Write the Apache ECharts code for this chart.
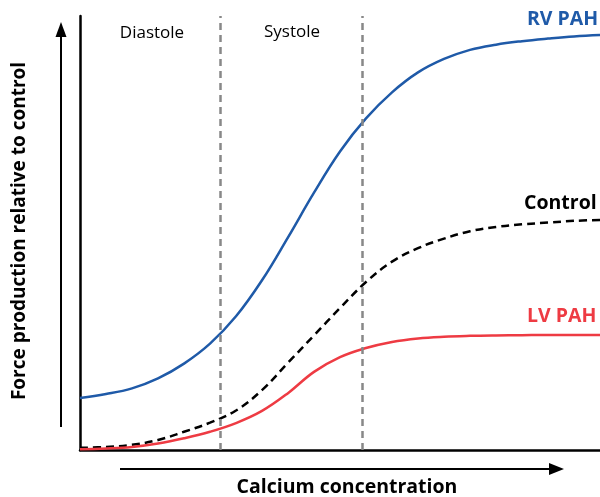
<!DOCTYPE html>
<html>
<head>
<meta charset="utf-8">
<script src="https://cdn.jsdelivr.net/npm/echarts@6/dist/echarts.min.js"></script>
<style>html,body{margin:0;padding:0;background:#fff;}#chart{width:600px;height:497px;}</style>
</head>
<body>
<div id="chart"></div>
<script>
// Calcium concentration (relative units, 0-100)
var calcium = [0, 5, 10, 15, 20, 25, 30, 35, 40, 45, 50, 55, 60, 65, 70, 75, 80, 85, 90, 95, 100];
// Force production (relative units)
var rvPah   = [12.0, 12.9, 14.2, 16.5, 19.9, 24.5, 30.8, 39.1, 49.0, 59.3, 68.8, 76.4, 82.4, 87.0, 90.1, 92.2, 93.4, 94.2, 94.8, 95.3, 95.6];
var control = [0.5, 0.7, 1.2, 2.3, 4.2, 6.3, 9.1, 13.8, 20.1, 26.4, 32.7, 38.7, 43.4, 46.5, 48.7, 50.4, 51.4, 52.0, 52.4, 52.8, 53.0];
var lvPah   = [0.2, 0.35, 0.7, 1.5, 2.7, 4.2, 6.2, 9.0, 13.1, 18.0, 21.4, 23.5, 24.9, 25.7, 26.1, 26.3, 26.4, 26.45, 26.5, 26.5, 26.5];
// Phase boundaries on calcium axis
var phaseBounds = [26.9, 54.2];
var phaseNames = ['Diastole', 'Systole'];
var seriesNames = ['RV PAH', 'Control', 'LV PAH'];

function pairs(ys) { return calcium.map(function (x, i) { return [x, ys[i]]; }); }

var FONT = 'Open Sans';
var chart = echarts.init(document.getElementById('chart'), null, { renderer: 'canvas' });

var option = {
  animation: false,
  backgroundColor: '#fff',
  grid: { left: 80, right: 0, top: 16, bottom: 47 },
  xAxis: {
    type: 'value', min: 0, max: 100,
    axisLine: { show: true, lineStyle: { color: '#000', width: 2.5 } },
    axisTick: { show: false }, axisLabel: { show: false }, splitLine: { show: false }
  },
  yAxis: {
    type: 'value', min: 0, max: 100,
    axisLine: { show: true, lineStyle: { color: '#000', width: 2.5 } },
    axisTick: { show: false }, axisLabel: { show: false }, splitLine: { show: false }
  },
  series: [
    {
      name: seriesNames[0], type: 'line', data: pairs(rvPah), smooth: 0.4,
      showSymbol: false, lineStyle: { color: '#1f5aa8', width: 2.5 }, z: 3
    },
    {
      name: seriesNames[1], type: 'line', data: pairs(control), smooth: 0.4,
      showSymbol: false, lineStyle: { color: '#000', width: 2.5, type: [8, 5] }, z: 3
    },
    {
      name: seriesNames[2], type: 'line', data: pairs(lvPah), smooth: 0.4,
      showSymbol: false, lineStyle: { color: '#ee3b43', width: 2.5 }, z: 3,
      markLine: {
        silent: true, symbol: 'none', label: { show: false },
        lineStyle: { color: '#888', width: 2.5, type: [7, 5] },
        data: phaseBounds.map(function (b) { return { xAxis: b }; })
      }
    }
  ],
  graphic: [
    // y-direction arrow
    { type: 'line', shape: { x1: 61, y1: 427, x2: 61, y2: 34 }, style: { stroke: '#000', lineWidth: 2 } },
    { type: 'polygon', shape: { points: [[61, 22], [55.5, 37], [66.5, 37]] }, style: { fill: '#000' } },
    // x-direction arrow
    { type: 'line', shape: { x1: 120, y1: 469, x2: 552, y2: 469 }, style: { stroke: '#000', lineWidth: 2 } },
    { type: 'polygon', shape: { points: [[564, 469], [549, 463], [549, 475]] }, style: { fill: '#000' } },
    // axis titles
    { type: 'text', x: 347, y: 487, style: { text: 'Calcium concentration', font: 'bold 19.5px "' + FONT + '"', fill: '#000', align: 'center', verticalAlign: 'middle' } },
    { type: 'text', x: 20, y: 231, rotation: Math.PI / 2, style: { text: 'Force production relative to control', font: 'bold 19px "' + FONT + '"', fill: '#000', align: 'center', verticalAlign: 'middle' } },
    // phase labels
    { type: 'text', x: 152, y: 33, style: { text: phaseNames[0], font: '17px "' + FONT + '"', fill: '#000', align: 'center', verticalAlign: 'middle' } },
    { type: 'text', x: 292, y: 32, style: { text: phaseNames[1], font: '17px "' + FONT + '"', fill: '#000', align: 'center', verticalAlign: 'middle' } },
    // series labels
    { type: 'text', x: 527, y: 19, style: { text: seriesNames[0], font: 'bold 19.5px "' + FONT + '"', fill: '#1f5aa8', align: 'left', verticalAlign: 'middle' } },
    { type: 'text', x: 524, y: 203, style: { text: seriesNames[1], font: 'bold 19.5px "' + FONT + '"', fill: '#000', align: 'left', verticalAlign: 'middle' } },
    { type: 'text', x: 527, y: 316, style: { text: seriesNames[2], font: 'bold 19.5px "' + FONT + '"', fill: '#ee3b43', align: 'left', verticalAlign: 'middle' } }
  ]
};
chart.setOption(option);
</script>
</body>
</html>
